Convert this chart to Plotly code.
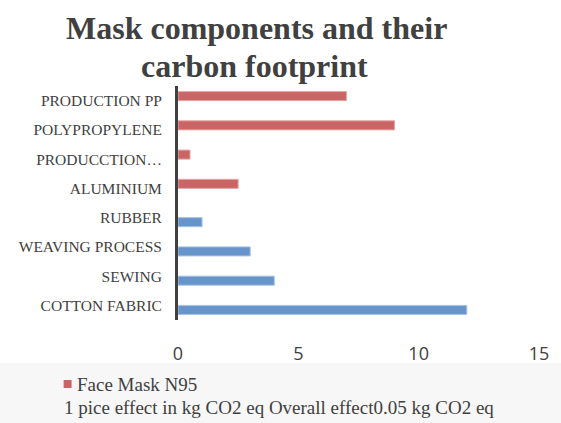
import plotly.graph_objects as go

categories = ["COTTON FABRIC", "SEWING", "WEAVING PROCESS", "RUBBER",
              "ALUMINIUM", "PRODUCCTION…", "POLYPROPYLENE", "PRODUCTION PP"]
blue_name = "1 pice effect in kg CO2 eq Overall effect0.05 kg CO2 eq"
blue_vals = [12, 4, 3, 1, None, None, None, None]
red_name = "Face Mask N95"
red_vals = [None, None, None, None, 2.5, 0.5, 9, 7]
x_ticks = [0, 5, 10, 15]
title_lines = ["Mask components and their", "carbon footprint"]

serif = "Liberation Serif, Times New Roman, serif"
txt = "#404040"
red = "#CA6565"

# plot area in pixels: x 178..541, y 86..320
def px(x):
    return (x - 178) / 363.0

def py(y):
    return (320 - y) / 234.0

fig = go.Figure()
fig.add_trace(go.Bar(y=categories, x=blue_vals, orientation="h", name=blue_name,
                     marker=dict(color="#6794CB", line=dict(color="#A9C3E3", width=1)),
                     showlegend=False))
fig.add_trace(go.Bar(y=categories, x=red_vals, orientation="h", name=red_name,
                     marker=dict(color=red, line=dict(color="#E8A7A7", width=1)),
                     showlegend=False))

annotations = []
for text, yc, xc in zip(title_lines, [28, 66], [257, 255]):
    annotations.append(dict(text="<b>" + text + "</b>", xref="paper", yref="paper",
                            x=px(xc), y=py(yc), xanchor="center", yanchor="middle",
                            showarrow=False, font=dict(family=serif, size=32, color=txt)))
annotations += [
    dict(text=red_name, xref="paper", yref="paper", x=px(74), y=py(384),
         xanchor="left", yanchor="middle", showarrow=False,
         font=dict(family=serif, size=19, color=txt)),
    dict(text=blue_name, xref="paper", yref="paper", x=px(61), y=py(407),
         xanchor="left", yanchor="middle", showarrow=False,
         font=dict(family=serif, size=19, color=txt)),
]

fig.update_layout(
    width=561, height=423,
    margin=dict(l=178, r=20, t=86, b=103),
    paper_bgcolor="white", plot_bgcolor="white",
    barmode="group", bargap=0.38,
    showlegend=False,
    xaxis=dict(range=[0, 15], tickvals=x_ticks, showgrid=False, zeroline=False,
               showline=False, ticks="outside", ticklen=17, tickcolor="rgba(0,0,0,0)",
               tickfont=dict(family="Open Sans, Liberation Sans, sans-serif", size=18, color=txt)),
    yaxis=dict(showgrid=False, zeroline=False, showline=True, linecolor="#404040",
               linewidth=3, ticks="outside", ticklen=10, tickcolor="rgba(0,0,0,0)",
               tickfont=dict(family=serif, size=15.5, color=txt)),
    shapes=[dict(type="rect", xref="paper", yref="paper", x0=-1, x1=2, y0=-0.6, y1=py(363),
                 fillcolor="#F7F7F7", line=dict(width=0), layer="below"),
            dict(type="rect", xref="paper", yref="paper", x0=px(63), x1=px(71),
                 y0=py(388), y1=py(380), fillcolor=red, line=dict(width=0))],
    annotations=annotations,
)

fig.write_html("out.html")
